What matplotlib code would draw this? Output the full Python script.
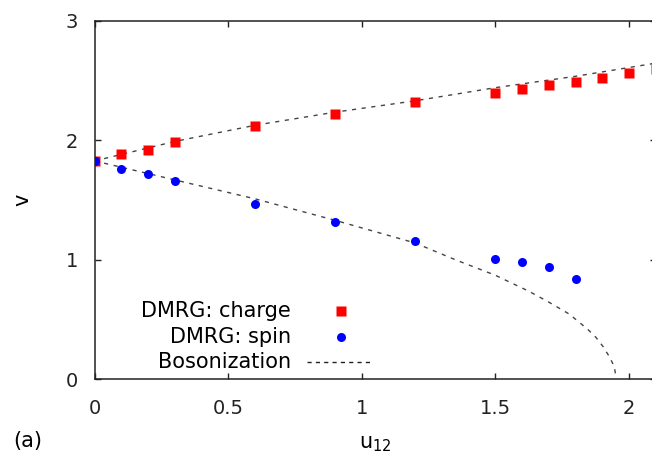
import matplotlib
matplotlib.use("Agg")
import matplotlib.pyplot as plt

plt.rcParams['font.family'] = ['DejaVu Sans']

# DMRG velocities
u_charge = [0.0, 0.1, 0.2, 0.3, 0.6, 0.9, 1.2, 1.5, 1.6, 1.7, 1.8, 1.9, 2.0, 2.1]
v_charge = [1.827, 1.885, 1.921, 1.985, 2.12, 2.221, 2.318, 2.398, 2.427, 2.46, 2.49, 2.524, 2.566, 2.597]

u_spin = [0.0, 0.1, 0.2, 0.3, 0.6, 0.9, 1.2, 1.5, 1.6, 1.7, 1.8]
v_spin = [1.827, 1.76, 1.718, 1.663, 1.468, 1.318, 1.157, 1.009, 0.984, 0.94, 0.837]

# bosonization curves (read points)
u_bos_c = [0.0, 0.3, 0.6, 0.9, 1.2, 1.5, 1.8, 2.1]
v_bos_c = [1.827, 1.99, 2.125, 2.235, 2.33, 2.44, 2.535, 2.645]
u_bos_s = [0.0, 0.3, 0.6, 0.9, 1.2, 1.35, 1.5, 1.542, 1.623, 1.701, 1.776,
           1.844, 1.876, 1.903, 1.926, 1.945, 1.952]
v_bos_s = [1.827, 1.668, 1.51, 1.33, 1.14, 1.0, 0.87, 0.825, 0.739, 0.644, 0.546,
           0.421, 0.351, 0.273, 0.19, 0.105, 0.0]

xticks = [0, 0.5, 1, 1.5, 2]
xlabels = ['0', '0.5', '1', '1.5', '2']
yticks = [0, 1, 2, 3]

fig = plt.figure(figsize=(6.52, 4.61), dpi=100)
ax = fig.add_axes([0.1452, 0.1772, 0.8606, 0.7779])

dash = dict(color='#444444', lw=1.0, dashes=(3, 4))
ax.plot(u_bos_c, v_bos_c, **dash)
ax.plot(u_bos_s, v_bos_s, **dash)
ax.plot(u_charge, v_charge, 's', color='#ff0000', ms=6.7, mec='none')
ax.plot(u_spin, v_spin, 'o', color='#0000ff', ms=6.5, mec='none')

ax.set_xlim(0, 2.1)
ax.set_ylim(0, 3)
ax.set_xticks(xticks)
ax.set_xticklabels(xlabels)
ax.set_yticks(yticks)
ax.tick_params(direction='in', length=4.5, width=1.0, top=True, right=True,
               labelsize=14, colors='#222222', pad=12)
ax.tick_params(axis='x', pad=14)
for s in ax.spines.values():
    s.set_linewidth(1.1)
    s.set_color('#222222')

ax.set_xlabel('u$_{12}$', fontsize=15, labelpad=12)
ax.set_ylabel('v', fontsize=15, labelpad=24)

# hand-made gnuplot style key
tr = ax.transAxes
ax.text(0.350, 0.191, 'DMRG: charge', transform=tr, ha='right', va='center', fontsize=15)
ax.text(0.350, 0.117, 'DMRG: spin', transform=tr, ha='right', va='center', fontsize=15)
ax.text(0.350, 0.047, 'Bosonization', transform=tr, ha='right', va='center', fontsize=15)
ax.plot([0.4384], [0.191], 's', color='#ff0000', ms=6.7, mec='none', transform=tr)
ax.plot([0.4384], [0.117], 'o', color='#0000ff', ms=6.5, mec='none', transform=tr)
ax.plot([0.378, 0.4937], [0.047, 0.047], color='#222222', lw=1.0, dashes=(3, 3), transform=tr)

fig.text(0.02, 0.043, '(a)', fontsize=15, ha='left', va='center')

fig.savefig('out.png', dpi=100)
